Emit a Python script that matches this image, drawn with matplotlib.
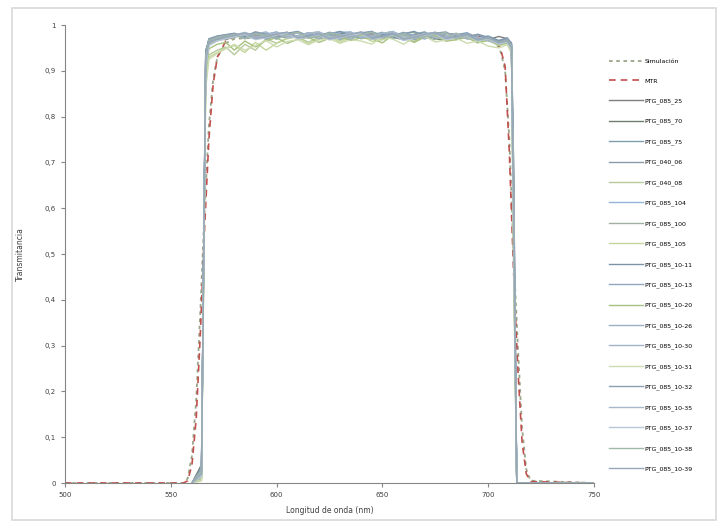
import numpy as np
import matplotlib
matplotlib.use("Agg")
import matplotlib.pyplot as plt
from matplotlib.patches import Rectangle

# longitudes de onda (nm)
wl_sim = [500, 550, 556, 558, 560, 562, 564, 566, 568, 570, 572, 576, 580, 600, 620, 640, 660, 680, 700,
          704, 706, 708, 710, 712, 714, 716, 718, 720, 750]
simulacion = [0, 0, 0, 0.01, 0.06, 0.18, 0.38, 0.60, 0.78, 0.88, 0.93, 0.96, 0.970, 0.974, 0.975, 0.975, 0.974,
              0.973, 0.970, 0.960, 0.940, 0.900, 0.750, 0.500, 0.300, 0.120, 0.030, 0.005, 0]
mtr = [0, 0, 0, 0.005, 0.04, 0.14, 0.33, 0.56, 0.75, 0.87, 0.93, 0.965, 0.975, 0.978, 0.978, 0.978, 0.977,
       0.976, 0.974, 0.965, 0.945, 0.910, 0.720, 0.460, 0.250, 0.090, 0.020, 0.003, 0]

wl_meas = [560, 564.5, 566.5, 568, 572, 576,
           580, 585, 590, 595, 600, 605, 610, 615, 620, 625, 630, 635, 640, 645, 650, 655, 660, 665, 670, 675,
           680, 685, 690, 695, 700, 705,
           709, 711, 712, 713.5, 750]

# transmitancia x 1000
medidas = {
    "PTG_085_25": [0, 20, 930, 968, 972, 975,
                   978, 971, 979, 974, 980, 972, 976, 981, 969, 978, 983, 973, 979, 970, 978, 984, 975, 968, 975, 982, 977, 970, 974, 979, 968, 975,
                   970, 955, 600, 0, 0],
    "PTG_085_70": [0, 40, 945, 965, 970, 968,
                   975, 981, 970, 978, 984, 972, 975, 983, 976, 968, 979, 984, 971, 975, 982, 973, 968, 979, 983, 970, 966, 978, 981, 970, 975, 964,
                   968, 950, 520, 0, 0],
    "PTG_085_75": [0, 10, 900, 960, 974, 977,
                   980, 973, 983, 977, 970, 980, 984, 975, 971, 979, 985, 976, 970, 978, 984, 975, 969, 980, 985, 972, 968, 979, 983, 971, 976, 966,
                   972, 958, 650, 0, 0],
    "PTG_040_06": [0, 30, 920, 962, 969, 973,
                   976, 982, 972, 975, 981, 984, 970, 974, 982, 976, 969, 979, 984, 972, 968, 982, 976, 970, 981, 979, 966, 977, 982, 973, 969, 962,
                   969, 960, 700, 0, 0],
    "PTG_040_08": [0, 5, 880, 935, 945, 952,
                   935, 958, 945, 970, 960, 972, 975, 962, 974, 977, 966, 976, 979, 968, 972, 977, 970, 964, 976, 978, 966, 970, 975, 965, 969, 958,
                   964, 948, 560, 0, 0],
    "PTG_085_104": [0, 25, 925, 966, 975, 978,
                    981, 974, 970, 980, 985, 973, 977, 983, 972, 976, 984, 985, 973, 970, 981, 986, 974, 977, 979, 984, 970, 975, 981, 970, 974, 963,
                    967, 952, 580, 0, 0],
    "PTG_085_100": [0, 15, 910, 958, 966, 970,
                    973, 979, 982, 970, 974, 980, 983, 971, 975, 981, 970, 973, 980, 983, 972, 975, 981, 984, 973, 968, 977, 982, 970, 966, 971, 960,
                    965, 945, 480, 0, 0],
    "PTG_085_105": [0, 8, 870, 930, 940, 950,
                    955, 940, 962, 945, 960, 970, 974, 958, 972, 975, 962, 973, 977, 964, 968, 974, 976, 963, 973, 977, 965, 968, 974, 962, 966, 955,
                    960, 940, 520, 0, 0],
    "PTG_085_10-11": [0, 35, 940, 970, 976, 979,
                      982, 975, 985, 980, 972, 982, 986, 976, 977, 981, 986, 978, 972, 983, 980, 971, 981, 986, 976, 972, 982, 979, 970, 980, 973, 966,
                      971, 961, 690, 0, 0],
    "PTG_085_10-13": [0, 22, 928, 964, 971, 974,
                      977, 983, 978, 969, 980, 984, 972, 976, 983, 979, 969, 980, 985, 974, 976, 983, 979, 968, 980, 984, 971, 974, 981, 970, 973, 962,
                      966, 950, 600, 0, 0],
    "PTG_085_10-20": [0, 12, 900, 948, 958, 962,
                      945, 965, 952, 966, 972, 960, 969, 973, 962, 971, 974, 966, 972, 970, 961, 978, 973, 962, 974, 977, 965, 968, 973, 961, 967, 956,
                      961, 944, 540, 0, 0],
    "PTG_085_10-26": [0, 28, 935, 967, 973, 976,
                      979, 970, 980, 985, 972, 976, 983, 979, 970, 984, 980, 971, 981, 986, 973, 976, 982, 978, 969, 983, 978, 970, 979, 968, 972, 961,
                      966, 953, 620, 0, 0],
    "PTG_085_10-30": [0, 18, 915, 962, 970, 974,
                      977, 982, 970, 979, 984, 973, 975, 982, 985, 973, 976, 983, 972, 975, 982, 985, 971, 974, 981, 984, 972, 975, 978, 966, 971, 960,
                      964, 948, 560, 0, 0],
    "PTG_085_10-31": [0, 6, 860, 925, 938, 948,
                      958, 945, 955, 966, 952, 964, 968, 957, 967, 970, 960, 968, 965, 958, 974, 969, 958, 972, 975, 963, 967, 971, 960, 965, 954, 950,
                      957, 938, 500, 0, 0],
    "PTG_085_10-32": [0, 32, 938, 969, 975, 978,
                      981, 972, 984, 979, 970, 980, 985, 975, 977, 984, 974, 976, 983, 986, 974, 977, 984, 973, 976, 982, 985, 972, 975, 979, 970, 964,
                      970, 958, 660, 0, 0],
    "PTG_085_10-35": [0, 24, 926, 965, 972, 975,
                      978, 984, 973, 976, 983, 972, 975, 982, 985, 972, 976, 983, 974, 976, 982, 985, 973, 975, 982, 972, 975, 980, 970, 974, 965, 960,
                      965, 951, 610, 0, 0],
    "PTG_085_10-37": [0, 14, 905, 955, 965, 970,
                      974, 979, 968, 972, 978, 981, 970, 973, 979, 968, 972, 978, 981, 969, 972, 978, 966, 971, 977, 980, 968, 972, 976, 965, 970, 958,
                      963, 946, 550, 0, 0],
    "PTG_085_10-38": [0, 26, 930, 966, 973, 976,
                      979, 970, 981, 978, 969, 979, 984, 972, 975, 982, 978, 968, 979, 984, 972, 975, 981, 971, 974, 979, 983, 970, 978, 967, 972, 962,
                      967, 954, 630, 0, 0],
    "PTG_085_10-39": [0, 20, 920, 963, 970, 974,
                      977, 982, 971, 974, 980, 984, 972, 975, 981, 970, 974, 980, 984, 971, 974, 980, 969, 973, 979, 983, 971, 974, 979, 968, 972, 961,
                      965, 950, 590, 0, 0],
}

colores = ['#7f7f7f', '#6f7f6f', '#7f9fb0', '#8a9aa8', '#b5c99a', '#95b3d7', '#9fb0a0', '#c3d69b', '#7a95a8',
           '#8fa8c0', '#a8c080', '#9ab0c8', '#a0b4c8', '#cddcb0', '#8ca0b4', '#a8b8c8', '#b8c8d8', '#a0b8a8', '#98a8b8']

fig = plt.figure(figsize=(7.27, 5.28), dpi=100)
fig.patches.append(Rectangle((12/727, 8/528), 704/727, 512/528, transform=fig.transFigure,
                             fill=False, edgecolor='#d9d9d9', linewidth=1.2))
ax = fig.add_axes([65/727, 45/528, 529/727, 458/528])

ax.plot(wl_sim, simulacion, color='#9aa58a', linestyle=(0, (2, 2)), linewidth=1.3, label='Simulación')
ax.plot(wl_sim, mtr, color='#c0504d', linestyle=(0, (4, 3)), linewidth=1.2, label='MTR')
for i, (nombre, vals) in enumerate(medidas.items()):
    ax.plot(wl_meas, np.array(vals) / 1000.0, color=colores[i], linewidth=1.0, label=nombre)

ax.set_xlim(500, 750)
ax.set_ylim(0, 1)
ax.set_xticks(range(500, 751, 50))
ax.set_yticks(np.arange(0, 1.01, 0.1))
ax.set_yticklabels(['0', '0,1', '0,2', '0,3', '0,4', '0,5', '0,6', '0,7', '0,8', '0,9', '1'])
for s in ['top', 'right']:
    ax.spines[s].set_visible(False)
for s in ['left', 'bottom']:
    ax.spines[s].set_color('#868686')
ax.tick_params(colors='#868686', labelcolor='#404040', labelsize=5, length=3, width=0.8)
ax.set_xlabel('Longitud de onda (nm)', fontsize=5.5, color='#404040', labelpad=6)
ax.set_ylabel('Transmitancia', fontsize=5.5, color='#404040', labelpad=14)

fig.legend(loc='upper left', bbox_to_anchor=(606/727, (528-56)/528), frameon=False, fontsize=4.5,
           handlelength=5.5, handletextpad=0.3, labelspacing=2.3, borderaxespad=0)

fig.savefig('out.png', dpi=100)
